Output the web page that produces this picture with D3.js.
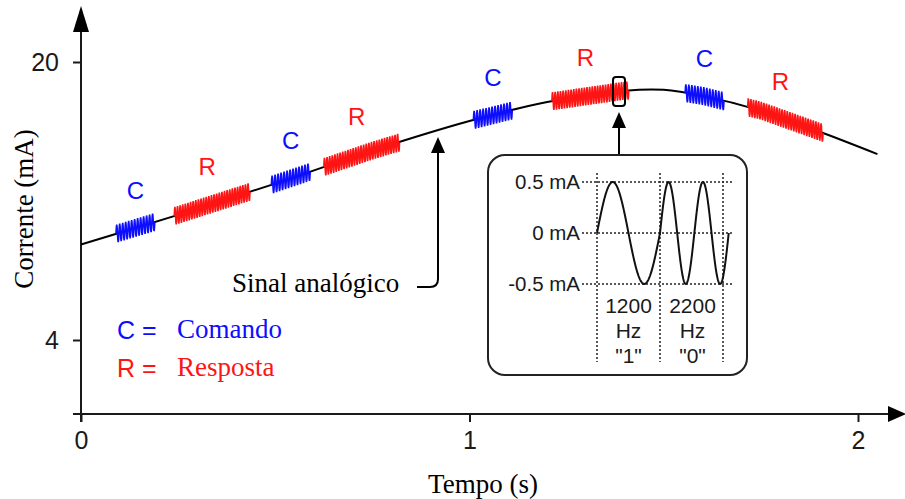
<!DOCTYPE html>
<html>
<head>
<meta charset="utf-8">
<script src="https://cdn.jsdelivr.net/npm/d3@7"></script>
<style>
  html, body { margin: 0; padding: 0; background: #fff; }
  svg { display: block; }
  .sans { font-family: "Liberation Sans", Arial, sans-serif; }
  .serif { font-family: "Liberation Serif", "Times New Roman", serif; }
</style>
</head>
<body>
<div class="canvas"></div>
<script>
// analog 4-20 mA signal
const timeS = [0, 0.25, 0.5, 0.75, 1.0, 1.2, 1.4, 1.5, 1.6, 1.75, 1.9, 2.05];
const currentMA = [9.5, 11.2, 13.0, 14.9, 16.6, 17.7, 18.35, 18.4, 18.05, 17.2, 16.0, 14.7];

// HART bursts riding on the signal (C = comando, R = resposta)
const burstType = ['C', 'R', 'C', 'R', 'C', 'R', 'C', 'R'];
const burstStart = [0.09, 0.24, 0.49, 0.625, 1.01, 1.212, 1.555, 1.716];
const burstEnd = [0.19, 0.435, 0.59, 0.82, 1.11, 1.41, 1.655, 1.91];
const burstCycles = [13, 29, 13, 29, 13, 29, 13, 29];

const xTicks = [0, 1, 2];
const yTicks = [4, 20];

// inset: FSK detail
const insetLevels = [0.5, 0, -0.5];
const insetLevelLabels = ['0.5 mA', '0 mA', '-0.5 mA'];
const fskFreqHz = [1200, 2200];
const fskBits = ['"1"', '"0"'];
const fskCycles = [1, 2];

const legendKeys = ['C', 'R'];
const legendNames = ['Comando', 'Resposta'];

const width = 905, height = 499;
const colors = {C: '#0d0dff', R: '#ff1414'};
const ink = '#1a1a1a';

const svg = d3.select('.canvas').append('svg')
  .attr('width', width)
  .attr('height', height);

const x = d3.scaleLinear().domain([0, 2]).range([81, 858]);
const y = d3.scaleLinear().domain([4, 20]).range([340, 62]);
const baseline = d3.scaleLinear().domain(timeS).range(currentMA);

// ---------- axes ----------
const xAxis = svg.append('g')
  .attr('transform', 'translate(0,414)')
  .call(d3.axisBottom(x).tickValues(xTicks).tickSize(8).tickPadding(9).tickFormat(d3.format('d')));
xAxis.select('.domain').remove();
xAxis.selectAll('line').attr('stroke', ink).attr('stroke-width', 2);
xAxis.selectAll('text').attr('class', 'sans').attr('font-size', 25).attr('fill', ink);

const yAxis = svg.append('g')
  .attr('transform', 'translate(81,0)')
  .call(d3.axisLeft(y).tickValues(yTicks).tickSize(8).tickPadding(14).tickFormat(d3.format('d')));
yAxis.select('.domain').remove();
yAxis.selectAll('line').attr('stroke', ink).attr('stroke-width', 2);
yAxis.selectAll('text').attr('class', 'sans').attr('font-size', 25).attr('fill', ink);

svg.append('line')
  .attr('x1', 73).attr('x2', 890).attr('y1', 414).attr('y2', 414)
  .attr('stroke', ink).attr('stroke-width', 2);
svg.append('path')
  .attr('d', 'M906,414 L888,406 L888,422 Z')
  .attr('fill', '#000');
svg.append('line')
  .attr('x1', 81).attr('x2', 81).attr('y1', 422).attr('y2', 28)
  .attr('stroke', ink).attr('stroke-width', 2);
svg.append('path')
  .attr('d', 'M81,6 L73,32 L89,32 Z')
  .attr('fill', '#000');

svg.append('text')
  .attr('class', 'serif')
  .attr('x', 483).attr('y', 493)
  .attr('text-anchor', 'middle')
  .attr('font-size', 27)
  .text('Tempo (s)');

svg.append('text')
  .attr('class', 'serif')
  .attr('transform', 'translate(33,209) rotate(-90)')
  .attr('text-anchor', 'middle')
  .attr('font-size', 27)
  .text('Corrente (mA)');

// ---------- analog signal ----------
const line = d3.line()
  .x((d, i) => x(timeS[i]))
  .y(d => y(d))
  .curve(d3.curveCatmullRom.alpha(0.5));

svg.append('path')
  .attr('d', line(currentMA))
  .attr('fill', 'none')
  .attr('stroke', '#000')
  .attr('stroke-width', 2);

// ---------- bursts ----------
const amp = 9;
burstType.forEach((type, i) => {
  const t0 = burstStart[i], t1 = burstEnd[i], n = burstCycles[i];
  const steps = n * 8;
  const pts = d3.range(steps + 1).map(k => {
    const t = t0 + (t1 - t0) * k / steps;
    return [x(t), y(baseline(t)) - amp * Math.sin(2 * Math.PI * n * k / steps)];
  });
  svg.append('path')
    .attr('d', d3.line()(pts))
    .attr('fill', 'none')
    .attr('stroke', colors[type])
    .attr('stroke-width', 1.6);

  const tm = (t0 + t1) / 2;
  svg.append('text')
    .attr('class', 'sans')
    .attr('x', x(tm) - (type === 'R' ? 5 : 0))
    .attr('y', y(baseline(tm)) - 38)
    .attr('dy', '0.36em')
    .attr('text-anchor', 'middle')
    .attr('font-size', 24)
    .attr('fill', colors[type])
    .text(type);
});

// ---------- legend ----------
legendKeys.forEach((k, i) => {
  const ly = 330 + i * 38;
  svg.append('text')
    .attr('class', 'sans')
    .attr('x', 117).attr('y', ly).attr('dy', '0.36em')
    .attr('font-size', 25).attr('fill', colors[k])
    .text(k + ' =');
  svg.append('text')
    .attr('class', 'serif')
    .attr('x', 177).attr('y', ly).attr('dy', '0.3em')
    .attr('font-size', 27).attr('fill', colors[k])
    .text(legendNames[i]);
});

// ---------- "Sinal analógico" callout ----------
svg.append('text')
  .attr('class', 'serif')
  .attr('x', 232).attr('y', 292)
  .attr('font-size', 27)
  .attr('fill', '#000')
  .text('Sinal analógico');
svg.append('path')
  .attr('d', 'M417,287 H430 Q438,287 438,279 V152')
  .attr('fill', 'none').attr('stroke', '#000').attr('stroke-width', 2);
svg.append('path')
  .attr('d', 'M438,137 L431,153 L445,153 Z')
  .attr('fill', '#000');

// ---------- zoom marker + inset ----------
svg.append('rect')
  .attr('x', 613).attr('y', 77).attr('width', 12).attr('height', 29).attr('rx', 3)
  .attr('fill', 'none').attr('stroke', '#000').attr('stroke-width', 2);
svg.append('line')
  .attr('x1', 619).attr('x2', 619).attr('y1', 155).attr('y2', 126)
  .attr('stroke', '#000').attr('stroke-width', 2);
svg.append('path')
  .attr('d', 'M619,112 L612,128 L626,128 Z')
  .attr('fill', '#000');

svg.append('rect')
  .attr('x', 488).attr('y', 155).attr('width', 259).attr('height', 220).attr('rx', 17)
  .attr('fill', '#fff').attr('stroke', '#222').attr('stroke-width', 2);

// inset scales: time in ms, current in mA
const bitMs = fskCycles.map((c, i) => 1000 * c / fskFreqHz[i]);
const ix = d3.scaleLinear().domain([0, 1]).range([597, 672.6]);
const iy = d3.scaleLinear().domain([-0.5, 0.5]).range([284, 182]);
const bitEdges = [0, bitMs[0], 2 * bitMs[0]];

const inset = svg.append('g');
insetLevels.forEach((v, i) => {
  inset.append('line')
    .attr('x1', 582).attr('x2', 733).attr('y1', iy(v)).attr('y2', iy(v))
    .attr('stroke', '#222').attr('stroke-width', 1.5).attr('stroke-dasharray', '2,2');
  inset.append('text')
    .attr('class', 'sans')
    .attr('x', 580).attr('y', iy(v)).attr('dy', '0.36em')
    .attr('text-anchor', 'end').attr('font-size', 20.5).attr('fill', ink)
    .text(insetLevelLabels[i]);
});
bitEdges.forEach(t => {
  inset.append('line')
    .attr('x1', ix(t)).attr('x2', ix(t)).attr('y1', 173).attr('y2', 362)
    .attr('stroke', '#222').attr('stroke-width', 1.5).attr('stroke-dasharray', '2,2');
});

let tStart = 0;
const wave = [];
fskFreqHz.forEach((f, i) => {
  const dur = bitMs[i];
  const steps = 120 * fskCycles[i];
  d3.range(steps + 1).forEach(k => {
    const tt = dur * k / steps;
    wave.push([ix(tStart + tt), iy(0.5 * Math.sin(2 * Math.PI * f * tt / 1000))]);
  });
  const cx = i === 0 ? (ix(bitEdges[0]) + ix(bitEdges[1])) / 2 : (ix(bitEdges[1]) + ix(bitEdges[2])) / 2 + 1;
  [String(f), 'Hz', fskBits[i]].forEach((s, j) => {
    inset.append('text')
      .attr('class', 'sans')
      .attr('x', cx).attr('y', 305 + j * 25).attr('dy', '0.36em')
      .attr('text-anchor', 'middle').attr('font-size', 21).attr('fill', ink)
      .text(s);
  });
  tStart += dur;
});
inset.append('path')
  .attr('d', d3.line()(wave))
  .attr('fill', 'none').attr('stroke', '#111').attr('stroke-width', 2);
</script>
</body>
</html>
